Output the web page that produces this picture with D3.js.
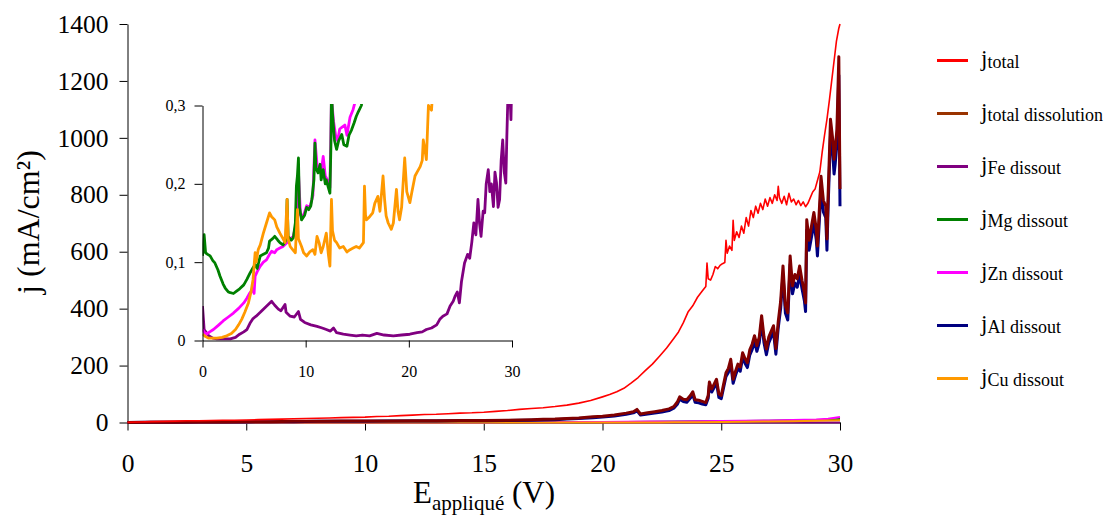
<!DOCTYPE html>
<html><head><meta charset="utf-8">
<script src="https://cdn.jsdelivr.net/npm/d3@7/dist/d3.min.js"></script>
<style>
body{margin:0;background:#fff}
svg{display:block}
text,tspan{font-family:"Liberation Serif","Times New Roman",serif;fill:#000}
</style>
</head><body>
<svg id="c" width="1107" height="515" font-family="Liberation Serif, Times New Roman, serif"></svg>
<script>
// ---------- tick values / labels ----------
const xTicks = [0,5,10,15,20,25,30];
const yTicks = [0,200,400,600,800,1000,1200,1400];
const insetXTicks = [0,10,20,30];
const insetYTicks = [0,0.1,0.2,0.3];
const insetYLabels = ["0","0,1","0,2","0,3"];

// ---------- series names / colours ----------
const seriesSub = ["total","total dissolution","Fe dissout","Mg dissout","Zn dissout","Al dissout","Cu dissout"];
const seriesColors = ["#ff0000","#800000","#800080","#008000","#ff00ff","#000080","#ff9900"];
const legendColors = ["#ff0000","#993300","#800080","#008000","#ff00ff","#000080","#ff9900"];

// ---------- data: [E (V), j (mA/cm2)] ----------
const jTotal = [[0,1],[0.5,2],[1,3],[1.5,4],[2,5],[2.5,6],[3,6],[3.5,7],[4,8],[4.5,8],[5,9],[5.5,10],[6,11],[6.5,12],[7,13],[7.5,14],[8,15],[8.5,16],[9,17],[9.5,18],[10,19],[10.5,21],[11,22],[11.5,24],[12,26],[12.5,28],[13,29],[13.5,31],[14,33],[14.5,34],[15,36],[15.5,39],[16,42],[16.5,46],[17,49],[17.5,52],[18,56],[18.5,61],[19,68],[19.5,77],[20,90],[20.3,98],[20.6,108],[20.9,120],[21.2,138],[21.5,158],[21.8,182],[22.1,205],[22.4,233],[22.7,262],[23.0,295],[23.2,318],[23.4,350],[23.6,388],[23.8,410],[24.0,440],[24.2,462],[24.35,478],[24.4,560],[24.45,505],[24.55,500],[24.65,520],[24.75,548],[24.85,540],[24.95,552],[25.05,558],[25.15,562],[25.2,640],[25.25,595],[25.35,620],[25.45,605],[25.5,710],[25.55,640],[25.65,670],[25.75,650],[25.85,690],[25.95,665],[26.05,720],[26.15,690],[26.25,745],[26.35,720],[26.45,760],[26.55,735],[26.65,770],[26.75,748],[26.85,785],[26.95,760],[27.05,790],[27.15,770],[27.25,800],[27.35,780],[27.4,830],[27.45,790],[27.55,770],[27.65,795],[27.75,765],[27.85,805],[27.95,775],[28.05,785],[28.15,765],[28.25,780],[28.35,762],[28.45,775],[28.55,758],[28.65,770],[28.75,790],[28.85,810],[28.95,820],[29.05,850],[29.15,880],[29.25,950],[29.35,1010],[29.45,1065],[29.55,1130],[29.65,1200],[29.75,1270],[29.85,1340],[29.95,1385],[30,1400]];

const jTotalDiss = [[0,0],[1,1],[2,1],[3,2],[4,2],[5,3],[6,3],[7,4],[8,4],[9,5],[10,5],[11,5],[12,6],[13,6],[14,7],[15,7],[16,8],[17,10],[17.5,11],[18,12],[18.5,14],[19,16],[19.6,20],[20,22],[20.5,26],[21.0,33],[21.3,38],[21.45,46],[21.6,30],[21.9,34],[22.2,38],[22.5,42],[22.8,48],[23.0,56],[23.15,72],[23.25,90],[23.4,82],[23.55,80],[23.7,95],[23.8,108],[23.9,80],[24.05,78],[24.2,74],[24.35,70],[24.45,95],[24.5,142],[24.6,118],[24.7,135],[24.8,152],[24.9,100],[25.0,95],[25.1,135],[25.2,175],[25.3,190],[25.4,222],[25.5,152],[25.6,180],[25.7,205],[25.8,195],[25.9,245],[26.0,225],[26.1,210],[26.2,255],[26.3,275],[26.4,305],[26.5,270],[26.6,300],[26.7,375],[26.8,300],[26.9,258],[27.0,300],[27.1,320],[27.2,340],[27.3,260],[27.4,355],[27.5,425],[27.6,550],[27.7,410],[27.8,385],[27.9,585],[28.0,480],[28.1,520],[28.2,505],[28.3,550],[28.4,500],[28.5,458],[28.55,420],[28.6,712],[28.7,640],[28.8,690],[28.9,738],[29.0,680],[29.05,620],[29.15,780],[29.2,865],[29.3,780],[29.4,760],[29.45,645],[29.5,800],[29.6,1065],[29.7,990],[29.75,925],[29.8,960],[29.87,1030],[29.95,1285],[30,820]];

const jAl = [[0,0],[1,1],[2,1],[3,2],[4,2],[5,2],[6,3],[7,3],[8,4],[9,4],[10,4],[11,5],[12,5],[13,5],[14,6],[15,6],[16,7],[17,8],[17.5,9],[18,10],[18.5,12],[19,14],[19.6,17],[20,19],[20.5,23],[21.0,29],[21.3,34],[21.45,41],[21.6,26],[21.9,30],[22.2,33],[22.5,37],[22.8,42],[23.0,50],[23.15,64],[23.25,82],[23.4,74],[23.55,71],[23.7,86],[23.8,98],[23.9,71],[24.05,69],[24.2,65],[24.35,62],[24.45,85],[24.5,130],[24.6,107],[24.7,123],[24.8,140],[24.9,88],[25.0,84],[25.1,123],[25.2,162],[25.3,176],[25.4,207],[25.5,138],[25.6,166],[25.7,190],[25.8,180],[25.9,228],[26.0,208],[26.1,193],[26.2,237],[26.3,256],[26.4,285],[26.5,250],[26.6,280],[26.7,352],[26.8,280],[26.9,238],[27.0,280],[27.1,300],[27.2,318],[27.3,240],[27.4,333],[27.5,400],[27.6,520],[27.7,385],[27.8,360],[27.9,555],[28.0,452],[28.1,490],[28.2,475],[28.3,520],[28.4,470],[28.5,428],[28.55,390],[28.6,675],[28.7,605],[28.8,652],[28.9,700],[29.0,643],[29.05,585],[29.15,740],[29.2,822],[29.3,740],[29.4,720],[29.45,605],[29.5,760],[29.6,1010],[29.7,938],[29.75,873],[29.8,910],[29.87,978],[29.95,1220],[30,760]];

const jFe = [[0,0.044],[0.16,0.014],[0.6,0.006],[1.0,0.003],[1.4,0.002],[2.0,0.002],[2.7,0.002],[3.2,0.004],[3.6,0.008],[4.0,0.011],[4.3,0.014],[4.6,0.022],[4.9,0.028],[5.2,0.031],[5.6,0.036],[5.9,0.040],[6.3,0.045],[6.7,0.050],[7.0,0.045],[7.35,0.040],[7.6,0.038],[8.0,0.046],[8.1,0.036],[8.5,0.031],[8.9,0.030],[9.3,0.037],[9.5,0.027],[9.9,0.023],[10.5,0.020],[11.1,0.018],[11.6,0.016],[12.0,0.014],[12.4,0.012],[12.7,0.016],[13.0,0.010],[13.65,0.008],[14.3,0.007],[14.9,0.006],[15.5,0.007],[16.2,0.006],[16.9,0.009],[17.6,0.007],[18.5,0.006],[19.3,0.007],[20.1,0.008],[20.8,0.010],[21.3,0.011],[21.7,0.014],[22.2,0.016],[22.7,0.020],[23.0,0.027],[23.3,0.031],[23.7,0.034],[24.0,0.044],[24.3,0.050],[24.5,0.057],[24.7,0.062],[24.9,0.048],[25.1,0.075],[25.4,0.099],[25.7,0.110],[25.9,0.105],[26.1,0.125],[26.3,0.150],[26.5,0.135],[26.7,0.180],[26.85,0.150],[27.0,0.133],[27.2,0.165],[27.35,0.163],[27.5,0.200],[27.7,0.218],[27.85,0.190],[28.0,0.200],[28.2,0.171],[28.35,0.215],[28.5,0.201],[28.65,0.170],[28.8,0.180],[28.95,0.230],[29.1,0.256],[29.25,0.215],[29.4,0.201],[29.5,0.260],[29.6,0.31],[29.75,0.33],[29.9,0.282],[30,0.35]];

const jMg = [[0,0.108],[0.16,0.135],[0.3,0.112],[0.5,0.110],[0.74,0.108],[1.0,0.102],[1.2,0.099],[1.5,0.090],[1.7,0.082],[2.0,0.072],[2.2,0.067],[2.5,0.062],[2.7,0.061],[3.0,0.060],[3.3,0.063],[3.6,0.066],[4.0,0.071],[4.3,0.078],[4.6,0.086],[4.9,0.093],[5.1,0.097],[5.3,0.092],[5.6,0.108],[5.9,0.110],[6.2,0.112],[6.4,0.118],[6.5,0.127],[6.8,0.130],[7.0,0.133],[7.3,0.128],[7.5,0.125],[7.8,0.122],[8.1,0.128],[8.2,0.180],[8.3,0.133],[8.6,0.128],[8.8,0.131],[9.0,0.150],[9.1,0.197],[9.2,0.210],[9.3,0.233],[9.4,0.170],[9.6,0.154],[9.9,0.160],[10.1,0.170],[10.3,0.167],[10.5,0.172],[10.6,0.180],[10.8,0.205],[10.9,0.252],[11.0,0.220],[11.2,0.214],[11.4,0.225],[11.5,0.205],[11.7,0.218],[11.9,0.200],[12.0,0.205],[12.2,0.195],[12.35,0.188],[12.45,0.25],[12.5,0.32],[12.6,0.29],[12.8,0.255],[13.0,0.244],[13.2,0.255],[13.5,0.263],[13.7,0.250],[14.0,0.248],[14.2,0.262],[14.45,0.269],[14.7,0.278],[14.9,0.286],[15.1,0.292],[15.4,0.30],[15.6,0.32],[16,0.4],[17,0.6],[18,0.9],[19,1.2],[20,1.6],[21,2.1],[22,2.8],[23,3.5],[24,4.3],[25,5.0],[26,5.6],[27,6.5],[28,7.5],[29,9],[29.5,10],[30,12]];

const jZn = [[0,0.014],[0.2,0.010],[0.4,0.008],[0.7,0.011],[1.06,0.014],[1.5,0.019],[2.0,0.025],[2.5,0.030],[3.0,0.035],[3.5,0.041],[4.0,0.048],[4.3,0.054],[4.6,0.061],[4.9,0.065],[5.0,0.060],[5.1,0.082],[5.3,0.088],[5.6,0.095],[5.9,0.100],[6.2,0.103],[6.5,0.110],[6.7,0.114],[7.0,0.112],[7.2,0.116],[7.5,0.118],[7.8,0.120],[8.2,0.125],[8.5,0.129],[8.8,0.133],[9.1,0.150],[9.3,0.215],[9.5,0.160],[9.8,0.160],[10.1,0.172],[10.4,0.170],[10.7,0.185],[10.9,0.256],[11.1,0.225],[11.3,0.218],[11.5,0.215],[11.7,0.235],[11.9,0.210],[12.1,0.205],[12.35,0.195],[12.5,0.31],[12.7,0.28],[12.9,0.262],[13.1,0.255],[13.3,0.270],[13.5,0.272],[13.8,0.275],[14.0,0.262],[14.3,0.285],[14.6,0.295],[14.9,0.31],[15.2,0.33],[16,0.45],[17,0.7],[18,1.0],[19,1.4],[20,1.8],[21,2.4],[22,3.1],[23,3.9],[24,4.8],[25,5.6],[26,6.4],[27,7.4],[28,8.6],[29,10.5],[29.5,13],[30,19]];

const jCu = [[0,0.008],[0.3,0.005],[0.6,0.003],[1.0,0.003],[1.4,0.003],[1.9,0.004],[2.35,0.006],[2.8,0.009],[3.2,0.014],[3.5,0.020],[3.8,0.027],[4.1,0.036],[4.45,0.048],[4.7,0.062],[4.9,0.078],[5.0,0.095],[5.1,0.112],[5.2,0.100],[5.4,0.116],[5.6,0.122],[5.9,0.137],[6.2,0.150],[6.5,0.163],[6.7,0.158],[7.0,0.154],[7.2,0.145],[7.5,0.137],[7.8,0.130],[8.0,0.125],[8.2,0.180],[8.3,0.130],[8.5,0.120],[8.8,0.115],[9.0,0.112],[9.2,0.167],[9.3,0.130],[9.6,0.120],[9.8,0.112],[10.1,0.108],[10.4,0.113],[10.7,0.116],[10.9,0.110],[11.1,0.133],[11.3,0.125],[11.5,0.112],[11.7,0.120],[12.0,0.137],[12.2,0.110],[12.35,0.095],[12.5,0.180],[12.6,0.140],[12.8,0.128],[13.0,0.125],[13.3,0.118],[13.65,0.120],[14.0,0.113],[14.3,0.116],[14.6,0.118],[14.9,0.120],[15.2,0.118],[15.6,0.125],[15.7,0.197],[15.8,0.160],[15.9,0.154],[16.2,0.158],[16.5,0.163],[16.7,0.175],[17.0,0.184],[17.2,0.165],[17.5,0.210],[17.65,0.180],[17.8,0.159],[18.0,0.150],[18.3,0.142],[18.5,0.150],[18.8,0.193],[18.95,0.165],[19.1,0.154],[19.3,0.170],[19.6,0.233],[19.8,0.190],[20.1,0.176],[20.3,0.190],[20.6,0.210],[20.8,0.215],[21.1,0.222],[21.3,0.230],[21.4,0.256],[21.6,0.240],[21.7,0.231],[21.9,0.30],[22.2,0.294],[22.4,0.34],[23,0.5],[24,1.0],[25,1.8],[26,2.5],[27,3.5],[28,4.5],[29,6],[30,8]];

const allSeries = [jTotal, jTotalDiss, jFe, jMg, jZn, jAl, jCu];

// ---------- drawing ----------
const svg = d3.select('#c');
const FONT = '"Liberation Serif", "Times New Roman", serif';
const ff = sel => sel.attr('font-family', FONT).style('font-family', FONT);

const x = d3.scaleLinear().domain([0,30]).range([127.5,840]);
const y = d3.scaleLinear().domain([0,1400]).range([422.5,24]);

const line = d3.line().x(d => x(d[0])).y(d => y(d[1]));

// main axes
const gy = svg.append('g').attr('transform','translate(127.5,0)')
  .call(d3.axisLeft(y).tickValues(yTicks).tickSize(8).tickSizeOuter(0).tickPadding(11).tickFormat(d3.format('d')));
const gx = svg.append('g').attr('transform','translate(0,422.5)')
  .call(d3.axisBottom(x).tickValues(xTicks).tickSize(8).tickSizeOuter(0).tickPadding(23).tickFormat(d3.format('d')));
[gx, gy].forEach(g => {
  ff(g); ff(g.selectAll('text'));
  g.selectAll('text').style('font-size','25.5px').attr('fill','#000');
  g.selectAll('line,path').attr('stroke','#000');
});

// main series (small ones first, then Al, total dissolution, total)
const mainOrder = [2,3,4,6,5,1,0];
const mainWidth = {0:1.6,1:3,2:2,3:2,4:2,5:3,6:2};
mainOrder.forEach(i => {
  svg.append('path').datum(allSeries[i])
    .attr('d', line).attr('fill','none')
    .attr('stroke', seriesColors[i]).attr('stroke-width', mainWidth[i])
    .attr('stroke-linejoin','round');
});

// axis titles
ff(svg.append('text').attr('transform','translate(39,222) rotate(-90)')
  .attr('text-anchor','middle').style('font-size','32px').text('j (mA/cm²)'));

const xl = ff(svg.append('text').attr('x',413).attr('y',503).style('font-size','31px'));
ff(xl.append('tspan').text('E'));
ff(xl.append('tspan').attr('dy',7).style('font-size','21px').text('appliqué'));
ff(xl.append('tspan').attr('dy',-7).style('font-size','31px').text(' (V)'));

// ---------- inset ----------
const xi = d3.scaleLinear().domain([0,30]).range([202.5,512]);
const yi = d3.scaleLinear().domain([0,0.3]).range([340.5,105.5]);
const linei = d3.line().x(d => xi(d[0])).y(d => yi(d[1]));

svg.append('clipPath').attr('id','insetClip').append('rect')
  .attr('x',202.5).attr('y',104).attr('width',312).attr('height',237);

const insetOrder = [2,4,3,6];
const gi = svg.append('g').attr('clip-path','url(#insetClip)');
insetOrder.forEach(i => {
  gi.append('path').datum(allSeries[i])
    .attr('d', linei).attr('fill','none')
    .attr('stroke', seriesColors[i]).attr('stroke-width', 2.8)
    .attr('stroke-linejoin','round');
});

const giy = svg.append('g').attr('transform','translate(202.5,0)')
  .call(d3.axisLeft(yi).tickValues(insetYTicks).tickSize(8).tickSizeOuter(0).tickPadding(9)
    .tickFormat((d,k) => insetYLabels[k]));
const gix = svg.append('g').attr('transform','translate(0,340.5)')
  .call(d3.axisBottom(xi).tickValues(insetXTicks).tickSize(7).tickSizeOuter(0).tickPadding(18).tickFormat(d3.format('d')));
[gix, giy].forEach(g => {
  ff(g); ff(g.selectAll('text'));
  g.selectAll('text').style('font-size','16px').attr('fill','#000');
  g.selectAll('line,path').attr('stroke','#000');
});

// ---------- legend ----------
const legY0 = 60.5, legDy = 53;
seriesSub.forEach((s,i) => {
  const yy = legY0 + i*legDy;
  svg.append('line').attr('x1',937).attr('x2',968).attr('y1',yy).attr('y2',yy)
    .attr('stroke', legendColors[i]).attr('stroke-width',3);
  const t = ff(svg.append('text').attr('x',981).attr('y',yy+5).style('font-size','23px'));
  ff(t.append('tspan').text('j'));
  ff(t.append('tspan').attr('dy',2).style('font-size','18px').text(s));
});
</script>
</body></html>
